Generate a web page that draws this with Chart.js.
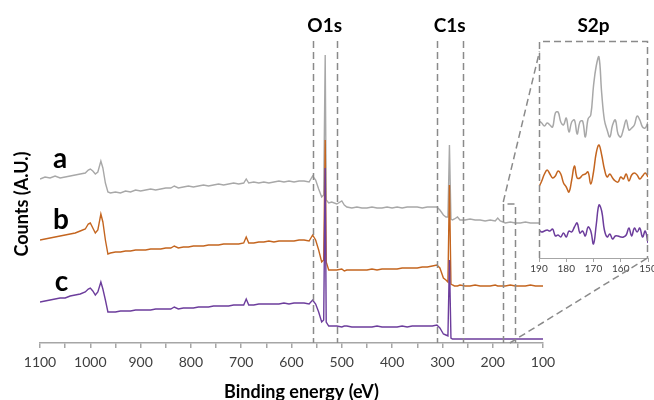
<!DOCTYPE html>
<html>
<head>
<meta charset="utf-8">
<script src="https://cdn.jsdelivr.net/npm/chart.js@4.4.1/dist/chart.umd.min.js"></script>
<style>
  html, body { margin: 0; padding: 0; background: #fff; }
  #wrap { position: relative; width: 654px; height: 400px; }
  #wrap canvas { position: absolute; left: 0; top: 0; }
  #insetChart { pointer-events: none; }
</style>
</head>
<body>
<div id="wrap">
  <canvas id="surveyChart" width="654" height="400"></canvas>
  <canvas id="insetChart" width="654" height="400"></canvas>
</div>
<script>
// Survey scan, binding energy in eV
const energy = [1100, 1090, 1080, 1070, 1060, 1050, 1040, 1030, 1020, 1010,
  1004, 1000, 995, 990, 985, 979, 975, 970, 965, 960,
  950, 940, 930, 920, 910, 900, 890, 880, 870, 860,
  850, 840, 833, 825, 815, 805, 795, 785, 775, 765,
  755, 745, 735, 725, 715, 705, 695, 690, 685, 675,
  665, 655, 645, 635, 625, 615, 605, 595, 585, 575,
  565, 558, 552, 546, 540, 536, 533, 531, 526, 520,
  510, 500, 495, 490, 480, 470, 460, 450, 440, 430,
  420, 410, 400, 390, 380, 370, 360, 350, 340, 330,
  320, 311, 305, 298, 293, 289, 286, 283, 280, 276,
  270, 265, 255, 245, 235, 225, 215, 205, 195, 190,
  185, 175, 165, 155, 145, 135, 125, 115, 105, 100]

// counts (a.u., traces stacked with offsets)
const countsA = [164, 166, 165, 167, 165, 166, 167, 168, 169, 170,
  173, 174, 172, 169, 171, 182, 175, 160, 151, 150,
  151, 150, 152, 151, 153, 152, 153, 154, 153, 154,
  155, 155, 157, 155, 156, 157, 156, 157, 158, 157,
  158, 159, 158, 159, 160, 159, 160, 164, 160, 161,
  160, 161, 160, 161, 162, 161, 162, 161, 162, 162,
  161, 167, 163, 154, 146, 148, 288, 143, 140, 141,
  139, 142, 138, 136, 135, 136, 135, 135, 136, 135,
  135, 136, 135, 136, 135, 136, 136, 136, 135, 136,
  136, 136, 133, 128, 126, 126, 198, 124, 123, 124,
  126, 123, 123, 124, 123, 123, 122, 123, 122, 125,
  122, 120, 121, 120, 120, 121, 120, 120, 120, 120]

const countsB = [103, 104, 105, 106, 107, 108, 109, 110, 112, 114,
  119, 120, 115, 110, 113, 129, 121, 103, 89, 90,
  91, 91, 92, 92, 93, 93, 93, 94, 94, 94,
  95, 95, 97, 95, 96, 96, 97, 97, 97, 98,
  98, 98, 99, 99, 99, 99, 100, 106, 100, 100,
  101, 101, 102, 101, 102, 102, 102, 102, 103, 103,
  102, 108, 103, 93, 81, 83, 203, 81, 73, 73,
  73, 74, 72, 73, 73, 73, 73, 73, 74, 73,
  74, 74, 74, 74, 75, 75, 75, 75, 76, 76,
  77, 78, 75, 65, 63, 61, 158, 59, 58, 57,
  57, 58, 57, 57, 58, 57, 57, 57, 58, 57,
  57, 57, 58, 57, 57, 57, 58, 57, 57, 57]

const countsC = [41, 42, 43, 44, 45, 45, 47, 48, 49, 51,
  54, 55, 52, 48, 51, 61, 54, 43, 31, 31,
  31, 32, 32, 32, 33, 33, 33, 33, 34, 34,
  34, 34, 36, 34, 35, 35, 35, 36, 36, 36,
  37, 37, 37, 37, 38, 38, 38, 44, 38, 38,
  39, 39, 39, 39, 39, 40, 39, 40, 40, 40,
  39, 43, 39, 31, 21, 23, 175, 21, 17, 17,
  17, 16, 17, 17, 16, 16, 16, 16, 16, 17,
  16, 16, 16, 16, 17, 16, 17, 17, 17, 17,
  17, 18, 15, 9, 8, 7, 83, 5, 4, 4,
  4, 4, 4, 4, 4, 4, 4, 4, 4, 4,
  4, 4, 4, 4, 4, 4, 4, 4, 4, 4]

// S2p high resolution window
const insetEnergy = [190, 189, 188, 187, 186, 185, 184, 183, 182, 181,
  180, 179, 178, 177, 176, 175, 174, 173, 172, 171,
  170, 169, 168, 167, 166, 165, 164, 163, 162, 161,
  160, 159, 158, 157, 156, 155, 154, 153, 152, 151, 150]
const insetA = [137, 135, 132, 135, 133, 131, 145, 146, 136, 133,
  140, 126, 136, 138, 124, 136, 137, 121, 139, 143,
  172, 192, 201, 165, 138, 128, 121, 133, 138, 124,
  121, 129, 138, 128, 130, 133, 142, 138, 131, 130, 136]
const insetB = [71, 77, 84, 88, 84, 80, 82, 87, 84, 75,
  71, 66, 78, 92, 80, 80, 83, 84, 86, 74,
  86, 105, 113, 103, 89, 81, 84, 80, 77, 76,
  81, 79, 84, 77, 83, 85, 83, 79, 82, 85, 81]
const insetC = [28, 26, 27, 28, 27, 29, 22, 23, 21, 25,
  21, 27, 26, 31, 35, 25, 27, 22, 31, 27,
  14, 33, 53, 47, 28, 21, 24, 19, 22, 22,
  21, 21, 23, 30, 22, 30, 26, 30, 21, 27, 15]

const seriesNames = ["a", "b", "c"]
const regionNames = ["O1s", "C1s"]
const regionHigh = [558, 311]
const regionLow = [510, 260]
const s2pWindow = [179, 156]
const tickLabels = [1100, 1000, 900, 800, 700, 600, 500, 400, 300, 200, 100]
const insetTickLabels = [190, 180, 170, 160, 150]

const colors = ["#a8a8a8", "#c4651f", "#6c3d9c"]
const DASH_COLOR = "#8a8a8a"
const DASH = [7, 4]
const FONT = "Lato, 'Open Sans', sans-serif"

const toPoints = (xs, ys) => xs.map((x, i) => ({ x: x, y: ys[i] }))

// Survey overlay: region windows, labels and axis titles
const surveyOverlay = {
  id: "surveyOverlay",
  afterDraw(chart) {
    const { ctx, chartArea } = chart
    const x = chart.scales.x
    const y = chart.scales.y
    ctx.save()
    ctx.strokeStyle = DASH_COLOR
    ctx.lineWidth = 1.5
    ctx.setLineDash(DASH)
    const top = chartArea.top - 2
    regionHigh.concat(regionLow).forEach((e) => {
      const px = Math.round(x.getPixelForValue(e)) + 0.5
      ctx.beginPath()
      ctx.moveTo(px, top)
      ctx.lineTo(px, chartArea.bottom)
      ctx.stroke()
    })
    // small S2p window
    const bTop = y.getPixelForValue(139)
    const bx1 = Math.round(x.getPixelForValue(s2pWindow[0])) + 0.5
    const bx2 = Math.round(x.getPixelForValue(s2pWindow[1])) + 0.5
    ctx.beginPath()
    ctx.moveTo(bx1, chartArea.bottom)
    ctx.lineTo(bx1, bTop)
    ctx.lineTo(bx2, bTop)
    ctx.lineTo(bx2, chartArea.bottom)
    ctx.stroke()
    ctx.setLineDash([])

    ctx.fillStyle = "#000"
    ctx.textAlign = "center"
    ctx.textBaseline = "middle"
    ctx.font = "bold 19px " + FONT
    regionNames.forEach((name, i) => {
      const cx = x.getPixelForValue((regionHigh[i] + regionLow[i]) / 2)
      ctx.fillText(name, cx, 26)
    })
    ctx.fillText("S2p", 593.5, 26)

    // trace labels
    ctx.font = "bold 28px " + FONT
    ctx.textBaseline = "alphabetic"
    ;[countsA, countsB, countsC].forEach((arr, i) => {
      ctx.fillText(seriesNames[i], x.getPixelForValue(1060) + i * 0.7, y.getPixelForValue(arr[0]) - 11)
    })

    // axis titles
    ctx.font = "bold 18px " + FONT
    ctx.fillText("Binding energy (eV)", (chartArea.left + chartArea.right) / 2 + 10, 398)
    ctx.translate(22, 204)
    ctx.rotate(-Math.PI / 2)
    ctx.textBaseline = "middle"
    ctx.fillText("Counts (A.U.)", 0, 0)
    ctx.restore()
  },
}

const survey = new Chart(document.getElementById("surveyChart"), {
  type: "line",
  data: {
    datasets: [
      { label: "a", data: toPoints(energy, countsA), borderColor: colors[0], order: 3 },
      { label: "b", data: toPoints(energy, countsB), borderColor: colors[1], order: 2 },
      { label: "c", data: toPoints(energy, countsC), borderColor: colors[2], order: 1 },
    ],
  },
  options: {
    responsive: false,
    animation: false,
    layout: { padding: { left: 40, right: 111, top: 43, bottom: 0 } },
    elements: {
      line: { borderWidth: 1.4, tension: 0 },
      point: { radius: 0 },
    },
    plugins: {
      legend: { display: false },
      tooltip: { enabled: false },
    },
    scales: {
      x: {
        type: "linear",
        reverse: true,
        min: 100,
        max: 1100,
        afterFit: (s) => { s.height = 57 },
        ticks: {
          stepSize: 50,
          autoSkip: false,
          maxRotation: 0,
          padding: 6,
          color: "#404040",
          font: { family: FONT, size: 14 },
          callback: (v) => (tickLabels.includes(v) ? v : ""),
        },
        grid: { drawOnChartArea: false, tickLength: 5, color: "#a6a6a6", lineWidth: 1.5 },
        border: { color: "#a6a6a6", width: 1.5 },
      },
      y: { display: false, min: 0, max: 300 },
    },
  },
  plugins: [surveyOverlay],
})

// Inset overlay: white panel, dashed frame and zoom connectors
const insetOverlay = {
  id: "insetOverlay",
  beforeDraw(chart) {
    const { ctx, chartArea } = chart
    ctx.save()
    ctx.fillStyle = "#fff"
    ctx.fillRect(chartArea.left, chartArea.top, chartArea.right - chartArea.left, chartArea.bottom - chartArea.top)
    ctx.restore()
  },
  afterDraw(chart) {
    const { ctx, chartArea } = chart
    const l = Math.round(chartArea.left) + 0.5
    const r = Math.round(chartArea.right) - 0.5
    const t = Math.round(chartArea.top) + 0.5
    const b = chartArea.bottom
    ctx.save()
    ctx.strokeStyle = DASH_COLOR
    ctx.lineWidth = 1.5
    ctx.setLineDash(DASH)
    ctx.beginPath()
    ctx.moveTo(l, b)
    ctx.lineTo(l, t)
    ctx.lineTo(r, t)
    ctx.lineTo(r, b)
    ctx.stroke()

    const sx = survey.scales.x
    const sy = survey.scales.y
    const area = survey.chartArea
    ctx.beginPath()
    ctx.moveTo(sx.getPixelForValue(s2pWindow[0]), sy.getPixelForValue(139) - 2)
    ctx.lineTo(l, t + 10)
    ctx.moveTo(sx.getPixelForValue(166), area.bottom)
    ctx.lineTo(r, b)
    ctx.stroke()
    ctx.restore()
  },
}

new Chart(document.getElementById("insetChart"), {
  type: "line",
  data: {
    datasets: [
      { label: "a", data: toPoints(insetEnergy, insetA), borderColor: colors[0], order: 3 },
      { label: "b", data: toPoints(insetEnergy, insetB), borderColor: colors[1], order: 2 },
      { label: "c", data: toPoints(insetEnergy, insetC), borderColor: colors[2], order: 1 },
    ],
  },
  options: {
    responsive: false,
    animation: false,
    layout: { padding: { left: 539, right: 6, top: 41, bottom: 0 } },
    elements: {
      line: { borderWidth: 1.5, tension: 0.4 },
      point: { radius: 0 },
    },
    plugins: {
      legend: { display: false },
      tooltip: { enabled: false },
    },
    scales: {
      x: {
        type: "linear",
        reverse: true,
        min: 150,
        max: 190,
        afterFit: (s) => {
          s.height = 142
          s.paddingLeft = 0
          s.paddingRight = 0
        },
        ticks: {
          stepSize: 10,
          autoSkip: false,
          maxRotation: 0,
          padding: 1,
          color: "#404040",
          font: { family: FONT, size: 10 },
          callback: (v) => (insetTickLabels.includes(v) ? v : ""),
        },
        grid: { drawOnChartArea: false, tickLength: 4, color: "#a6a6a6", lineWidth: 1 },
        border: { color: "#a6a6a6", width: 1 },
      },
      y: { display: false, min: 0, max: 217 },
    },
  },
  plugins: [insetOverlay],
})
</script>
</body>
</html>
